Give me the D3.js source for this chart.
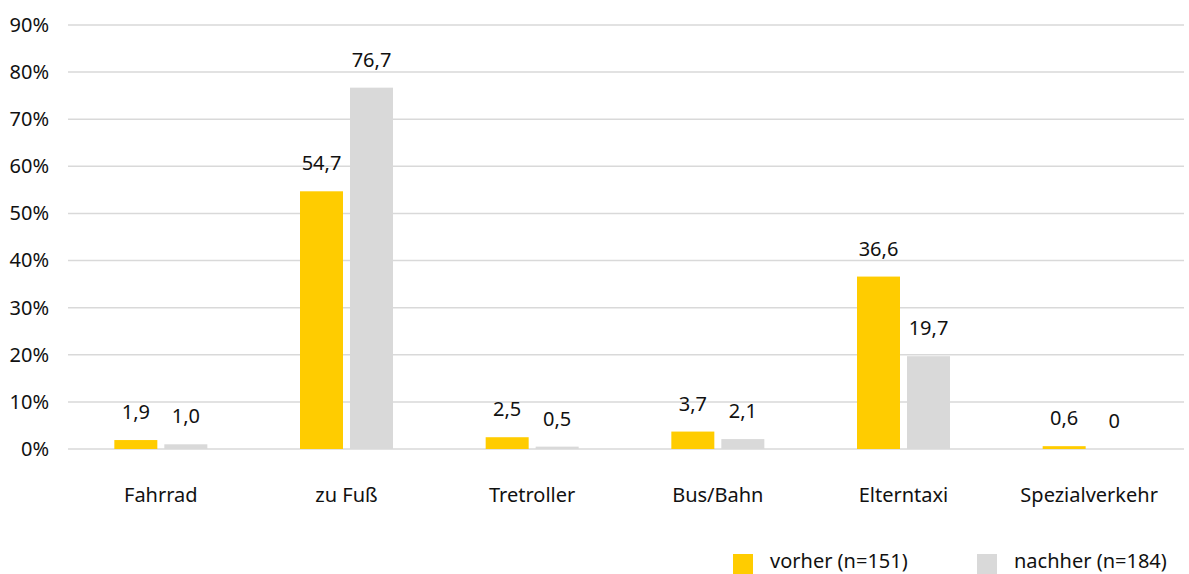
<!DOCTYPE html>
<html>
<head>
<meta charset="utf-8">
<script src="https://cdn.jsdelivr.net/npm/d3@7"></script>
<style>
    body { margin: 0; background: #fff; }
    svg text { font-family: "Noto Sans", sans-serif; fill: #111; }
</style>
</head>
<body>
<div id="chart"></div>
<script>
const categories = ['Fahrrad', 'zu Fuß', 'Tretroller', 'Bus/Bahn', 'Elterntaxi', 'Spezialverkehr'];
const vorher = [1.9, 54.7, 2.5, 3.7, 36.6, 0.6];
const nachher = [1.0, 76.7, 0.5, 2.1, 19.7, 0];
const seriesNames = ['vorher (n=151)', 'nachher (n=184)'];
const yTicks = [0, 10, 20, 30, 40, 50, 60, 70, 80, 90];

const width = 1189;
const height = 574;
const colors = ['#ffcc00', '#d9d9d9'];
const fontSize = 20;

const svg = d3.select('#chart').append('svg')
    .attr('width', width)
    .attr('height', height);

const x = d3.scaleBand()
    .domain(categories)
    .range([68, 1182]);

const y = d3.scaleLinear()
    .domain([0, 90])
    .range([449, 25]);

// gridlines
svg.append('g')
    .selectAll('line')
    .data(yTicks)
    .enter().append('line')
    .attr('x1', 68)
    .attr('x2', 1184)
    .attr('y1', d => y(d))
    .attr('y2', d => y(d))
    .attr('stroke', '#d9d9d9')
    .attr('stroke-width', 1.5);

// y axis labels
const yAxis = svg.append('g')
    .attr('transform', 'translate(57,0)')
    .call(d3.axisLeft(y).tickValues(yTicks).tickFormat(d => d + '%').tickSize(0).tickPadding(8));
yAxis.select('.domain').remove();
yAxis.selectAll('text')
    .attr('font-size', fontSize)
    .style('font-family', '"Noto Sans", sans-serif')
    .attr('fill', '#111');

const barW = 43;
const gap = 7;
const series = [vorher, nachher];

series.forEach((values, s) => {
    const offset = s === 0 ? -gap / 2 - barW : gap / 2;
    const g = svg.append('g');
    g.selectAll('rect')
        .data(values)
        .enter().append('rect')
        .attr('x', (d, i) => x(categories[i]) + x.bandwidth() / 2 + offset)
        .attr('y', d => y(d))
        .attr('width', barW)
        .attr('height', d => y(0) - y(d))
        .attr('fill', colors[s]);

    g.selectAll('text')
        .data(values)
        .enter().append('text')
        .attr('x', (d, i) => x(categories[i]) + x.bandwidth() / 2 + offset + barW / 2)
        .attr('y', d => y(d) - 21)
        .attr('text-anchor', 'middle')
        .attr('font-size', fontSize)
        .text(d => d === 0 ? '0' : d.toFixed(1).replace('.', ','));
});

// category labels
svg.append('g')
    .selectAll('text')
    .data(categories)
    .enter().append('text')
    .attr('x', d => x(d) + x.bandwidth() / 2)
    .attr('y', 502)
    .attr('text-anchor', 'middle')
    .attr('font-size', fontSize)
    .text(d => d);

// legend
const legendX = [733, 977];
seriesNames.forEach((name, s) => {
    svg.append('rect')
        .attr('x', legendX[s])
        .attr('y', 554)
        .attr('width', 20)
        .attr('height', 20)
        .attr('fill', colors[s]);
    svg.append('text')
        .attr('x', legendX[s] + 37)
        .attr('y', 568)
        .attr('font-size', fontSize)
        .text(name);
});
</script>
</body>
</html>
